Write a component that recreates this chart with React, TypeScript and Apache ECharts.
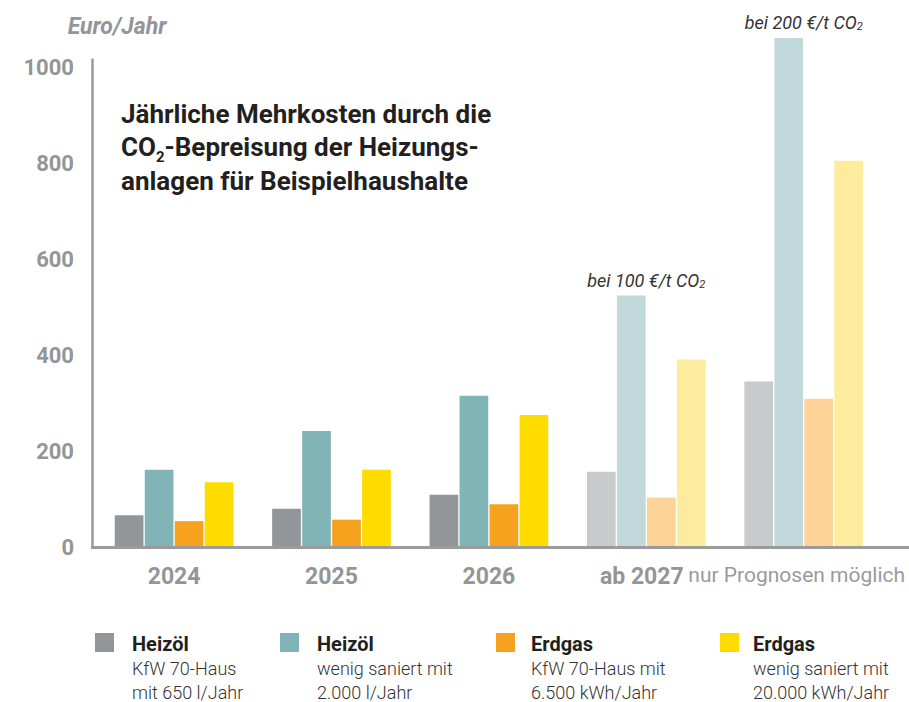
import React, { useEffect, useRef } from 'react';
import * as echarts from 'echarts';

// ---------- data ----------
const categories = ['2024', '2025', '2026', 'ab 2027', 'nur Prognosen möglich'];
const forecastFrom = 3; // categories from this index on are forecasts (lighter colours)
const heizoelKfw = [67, 81, 110, 158, 346];
const heizoelWenig = [162, 243, 316, 525, 1062];
const erdgasKfw = [55, 58, 90, 104, 310];
const erdgasWenig = [136, 162, 276, 392, 806];
const priceNotes = ['', '', '', 'bei 100 €/t CO', 'bei 200 €/t CO'];
const yTickStep = 200;

const seriesNames = [
  'Heizöl KfW 70-Haus mit 650 l/Jahr',
  'Heizöl wenig saniert mit 2.000 l/Jahr',
  'Erdgas KfW 70-Haus mit 6.500 kWh/Jahr',
  'Erdgas wenig saniert mit 20.000 kWh/Jahr',
];
const legendTitles = ['Heizöl', 'Heizöl', 'Erdgas', 'Erdgas'];
const legendLines = [
  ['KfW 70-Haus', 'mit 650 l/Jahr'],
  ['wenig saniert mit', '2.000 l/Jahr'],
  ['KfW 70-Haus mit', '6.500 kWh/Jahr'],
  ['wenig saniert mit', '20.000 kWh/Jahr'],
];

// ---------- styles ----------
const colors = ['#939598', '#80b4b7', '#f7a21e', '#ffdc00'];
const lightColors = ['#c9cacc', '#c1d9db', '#fdd398', '#fdeb9e'];
const axisGray = '#9b9b9d';
const labelGray = '#939598';
const FONT = 'Roboto, "Noto Sans", sans-serif';
const legendSquareX = [95, 280, 496, 720];
const legendTextX = [132, 317, 531, 753];

export default function App() {
  const ref = useRef<HTMLDivElement>(null);

  useEffect(() => {
    document.body.style.margin = '0';
    const chart = echarts.init(ref.current!, undefined, { renderer: 'svg' });
    const seriesData = [heizoelKfw, heizoelWenig, erdgasKfw, erdgasWenig];

    const noteRich = {
      a: {
        fontFamily: FONT,
        fontStyle: 'italic',
        fontWeight: 'normal',
        fontSize: 18,
        color: '#333333',
        lineHeight: 22,
        verticalAlign: 'bottom',
      },
      s: {
        fontFamily: FONT,
        fontStyle: 'italic',
        fontWeight: 'normal',
        fontSize: 11,
        color: '#333333',
        lineHeight: 12,
        verticalAlign: 'bottom',
      },
    };

    const series = seriesData.map((arr, s) => ({
      type: 'bar',
      name: seriesNames[s],
      barWidth: 28.7,
      barGap: '4.5%',
      clip: false,
      itemStyle: { color: colors[s] },
      data: arr.map((v, i) => {
        const item: any = { value: v };
        if (i >= forecastFrom) item.itemStyle = { color: lightColors[s] };
        if (s === 1 && priceNotes[i]) {
          item.label = {
            show: true,
            position: 'top',
            distance: 6,
            offset: [15, 0],
            formatter: `{a|${priceNotes[i]}}{s|2}`,
            rich: noteRich,
          };
        }
        return item;
      }),
    }));

    const legendGraphics: any[] = [];
    legendTitles.forEach((t, i) => {
      legendGraphics.push({
        type: 'rect',
        shape: { x: legendSquareX[i], y: 633, width: 19, height: 19 },
        style: { fill: colors[i] },
      });
      legendGraphics.push({
        type: 'text',
        x: legendTextX[i],
        y: 632,
        style: {
          text: `{b|${t}}\n{r|${legendLines[i][0]}}\n{r|${legendLines[i][1]}}`,
          verticalAlign: 'top',
          rich: {
            b: { fontFamily: FONT, fontWeight: 'bold', fontSize: 20, fill: '#231f20', lineHeight: 24 },
            r: { fontFamily: FONT, fontWeight: 300, fontSize: 18, fill: '#333333', lineHeight: 24 },
          },
        },
      });
    });

    const option: any = {
      animation: false,
      textStyle: { fontFamily: FONT },
      grid: { left: 95.4, right: 26.6, top: 59.5, bottom: 154.5, containLabel: false },
      xAxis: {
        type: 'category',
        data: categories,
        axisLine: { show: false },
        axisTick: { show: false },
        axisLabel: {
          interval: 0,
          margin: 17,
          formatter: (val: string, idx: number) =>
            idx === categories.length - 1
              ? `{r|${val}}`
              : idx === forecastFrom
              ? `{f|${val}}`
              : `{b|${val}}`,
          rich: {
            b: { fontFamily: FONT, fontWeight: 'bold', fontSize: 23, color: labelGray },
            f: { fontFamily: FONT, fontWeight: 'bold', fontSize: 23, color: labelGray, padding: [0, 9, 0, 0] },
            r: { fontFamily: FONT, fontWeight: 'normal', fontSize: 21, color: '#9a9a9c', padding: [0, 14, 0, 0] },
          },
        },
      },
      yAxis: {
        type: 'value',
        min: 0,
        max: 1017,
        interval: yTickStep,
        offset: 3.4,
        name: 'Euro/Jahr',
        nameLocation: 'end',
        nameGap: 33.5,
        nameTextStyle: {
          fontFamily: FONT,
          fontStyle: 'italic',
          fontWeight: 'bold',
          fontSize: 23,
          color: labelGray,
          align: 'center',
          verticalAlign: 'middle',
          padding: [0, 0, 0, 50],
        },
        axisLine: { show: true, lineStyle: { color: axisGray, width: 2.5 } },
        axisTick: { show: false },
        splitLine: { show: false },
        axisLabel: {
          margin: 18,
          fontFamily: FONT,
          fontWeight: 'bold',
          fontSize: 22,
          color: labelGray,
          formatter: (v: number) => (v % yTickStep === 0 ? String(v) : ''),
        },
      },
      series,
      graphic: [
        {
          type: 'line',
          shape: { x1: 91, y1: 547.5, x2: 909, y2: 547.5 },
          style: { stroke: axisGray, lineWidth: 3 },
          z: 10,
        },
        {
          type: 'text',
          x: 121,
          y: 97,
          style: {
            text: 'Jährliche Mehrkosten durch die\nCO{s|2}-Bepreisung der Heizungs-\nanlagen für Beispielhaushalte',
            fontFamily: FONT,
            fontWeight: 'bold',
            fontSize: 26,
            fill: '#231f20',
            lineHeight: 33.5,
            verticalAlign: 'top',
            rich: {
              s: {
                fontFamily: FONT,
                fontWeight: 'bold',
                fontSize: 15,
                fill: '#231f20',
                lineHeight: 22,
                verticalAlign: 'bottom',
              },
            },
          },
        },
        ...legendGraphics,
      ],
    };

    chart.setOption(option);
    return () => chart.dispose();
  }, []);

  return <div ref={ref} style={{ width: 909, height: 702 }} />;
}
